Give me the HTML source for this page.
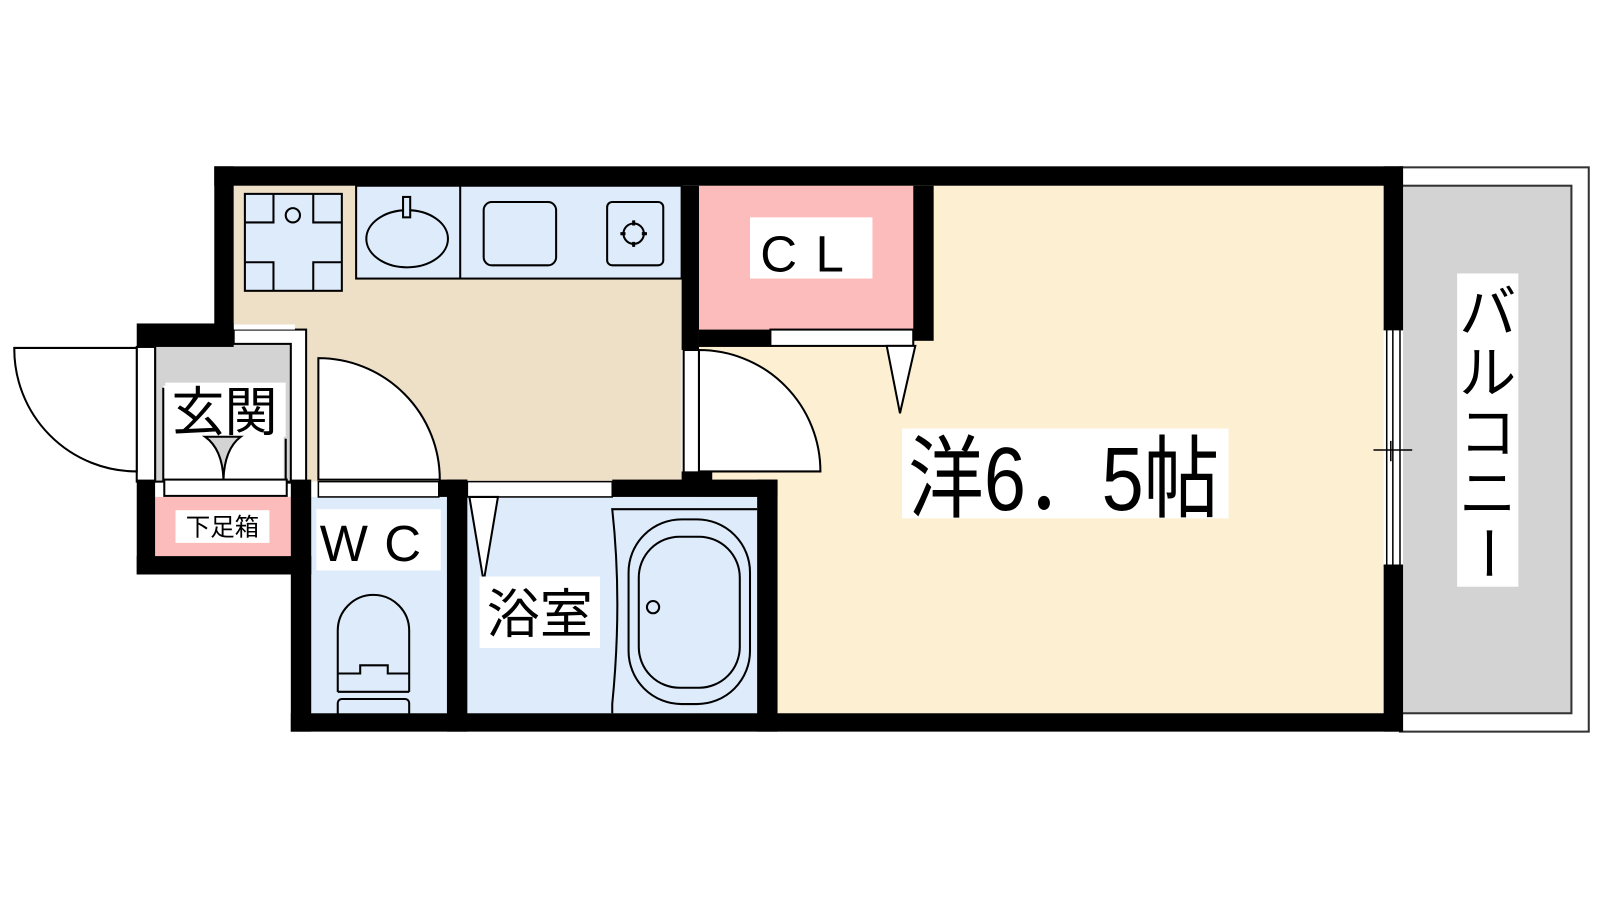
<!DOCTYPE html>
<html><head><meta charset="utf-8"><style>html,body{margin:0;padding:0;background:#fff}svg{display:block}text{font-family:"Liberation Sans","Noto Sans CJK JP",sans-serif}</style></head>
<body>
<svg width="1600" height="900" viewBox="0 0 1600 900" xmlns="http://www.w3.org/2000/svg">
<rect width="1600" height="900" fill="#fff"/>
<g transform="scale(1.0204)">
<!-- balcony -->
<rect x="1372" y="164" width="185" height="553" fill="#fff" stroke="#333" stroke-width="2"/>
<rect x="1372" y="182" width="168" height="517" fill="#d3d3d3" stroke="#333" stroke-width="2"/>
<rect x="1428" y="268" width="60" height="307" fill="#fff"/>
<g font-size="56" text-anchor="middle" fill="#000">
<text x="1458" y="326">バ</text><text x="1458" y="385">ル</text><text x="1458" y="444">コ</text><text x="1458" y="503">ニ</text><text x="1458" y="562" transform="rotate(90 1458 542)">ー</text>
</g>
<!-- main room -->
<rect x="685" y="182" width="673" height="517" fill="#fdf0d2"/>
<!-- kitchen -->
<rect x="229" y="182" width="439" height="290" fill="#eedfc7"/>
<rect x="229" y="323" width="71" height="150" fill="#fff" stroke="#000" stroke-width="2"/>
<rect x="229" y="318" width="60" height="5" fill="#fff"/>
<!-- washer -->
<rect x="240" y="190" width="95" height="95" fill="#ddebfa" stroke="#000" stroke-width="2"/>
<path d="M268 190V218H240M307 190V218H335M240 257H268V285M335 257H307V285" fill="none" stroke="#000" stroke-width="2"/>
<circle cx="287" cy="211" r="7" fill="none" stroke="#000" stroke-width="2"/>
<!-- counter -->
<rect x="349" y="182" width="319" height="91" fill="#ddebfa" stroke="#000" stroke-width="2"/>
<line x1="451" y1="182" x2="451" y2="273" stroke="#000" stroke-width="2"/>
<ellipse cx="399" cy="234" rx="40" ry="28" fill="none" stroke="#000" stroke-width="2"/>
<rect x="395" y="193" width="7" height="20" fill="#ddebfa" stroke="#000" stroke-width="2"/>
<rect x="474" y="198" width="71" height="62" rx="8" fill="none" stroke="#000" stroke-width="2"/>
<rect x="595" y="198" width="55" height="62" rx="5" fill="none" stroke="#000" stroke-width="2"/>
<circle cx="621" cy="229" r="10" fill="none" stroke="#000" stroke-width="2"/>
<path d="M621 216v5M621 237v5M608 229h5M629 229h5" stroke="#000" stroke-width="3"/>
<!-- kitchen door -->
<path d="M312 470V351A119 119 0 0 1 431 470Z" fill="#fff" stroke="#000" stroke-width="2"/>
<!-- CL -->
<rect x="685" y="182" width="210" height="141" fill="#fdbcbc"/>
<rect x="735" y="213" width="120" height="60" fill="#fff"/>
<text x="795" y="266" font-size="50" text-anchor="middle" letter-spacing="18">CL</text>
<rect x="755" y="323" width="140" height="16" fill="#fff" stroke="#000" stroke-width="2"/>
<path d="M869 339L897 339L882 405Z" fill="#fff" stroke="#000" stroke-width="2"/>
<!-- door from room -->
<rect x="670" y="343" width="15" height="120" fill="#fff" stroke="#000" stroke-width="2"/>
<path d="M685 462V343A119 119 0 0 1 804 462Z" fill="#fff" stroke="#000" stroke-width="2"/>
<!-- entrance -->
<rect x="152" y="337" width="133" height="135" fill="#d3d3d3" stroke="#000" stroke-width="2"/>
<rect x="160" y="378" width="118" height="94" fill="#fff"/>
<path d="M160 380V472M280 430V472" stroke="#000" stroke-width="2"/>
<rect x="162" y="375" width="118" height="53" fill="#fff"/>
<text x="220" y="422" font-size="52" text-anchor="middle">玄関</text>
<path d="M201 428Q218 440 219 470Q220 440 236 428Z" fill="#d3d3d3" stroke="#000" stroke-width="2"/>
<rect x="161" y="470" width="120" height="16" fill="#fff" stroke="#000" stroke-width="2"/>
<rect x="152" y="487" width="133" height="59" fill="#fdbcbc"/>
<rect x="172" y="500" width="92" height="32" fill="#fff"/>
<text x="218" y="525" font-size="24" text-anchor="middle">下足箱</text>
<rect x="134" y="340" width="18" height="132" fill="#fff" stroke="#000" stroke-width="2"/>
<path d="M14 341H134V462A120 120 0 0 1 14 341Z" fill="#fff" stroke="#000" stroke-width="2"/>
<!-- WC -->
<rect x="305" y="487" width="133" height="212" fill="#ddebfa"/>
<rect x="310" y="499" width="122" height="60" fill="#fff"/>
<text x="371" y="550" font-size="50" text-anchor="middle" letter-spacing="16">WC</text>
<path d="M331 678V618A35 35 0 0 1 401 618V678" fill="none" stroke="#000" stroke-width="2"/>
<path d="M331 660H353V652H380V660H401M331 678H401" fill="none" stroke="#000" stroke-width="2"/>
<rect x="331" y="685" width="70" height="20" rx="4" fill="none" stroke="#000" stroke-width="2"/>
<rect x="312" y="472" width="118" height="15" fill="#fff" stroke="#000" stroke-width="1.5"/>
<!-- bath -->
<rect x="458" y="487" width="284" height="212" fill="#ddebfa"/>
<rect x="458" y="472" width="142" height="15" fill="#fff" stroke="#000" stroke-width="1.5"/>
<path d="M460 487L488 487L474 570Z" fill="#fff" stroke="#000" stroke-width="2"/>
<rect x="470" y="565" width="118" height="70" fill="#fff"/>
<text x="529" y="620" font-size="52" text-anchor="middle">浴室</text>
<path d="M742 499H600Q610 590 600 690V699" fill="none" stroke="#000" stroke-width="2"/>
<rect x="616" y="509" width="119" height="181" rx="52" fill="none" stroke="#000" stroke-width="2"/>
<rect x="626" y="526" width="99" height="148" rx="40" fill="none" stroke="#000" stroke-width="2"/>
<circle cx="640" cy="595" r="6" fill="none" stroke="#000" stroke-width="2"/>
<!-- room label -->
<rect x="884" y="420" width="320" height="88" fill="#fff"/>
<text x="890" y="500" font-size="88" textLength="305" lengthAdjust="spacingAndGlyphs">洋6．5帖</text>
<!-- walls -->
<g fill="#000">
<rect x="210" y="163" width="1165" height="19"/>
<rect x="210" y="163" width="19" height="160"/>
<rect x="134" y="317" width="95" height="23"/>
<rect x="134" y="470" width="18" height="93"/>
<rect x="134" y="545" width="171" height="18"/>
<rect x="285" y="470" width="20" height="247"/>
<rect x="668" y="182" width="17" height="161"/>
<rect x="668" y="462" width="30" height="10"/>
<rect x="685" y="323" width="70" height="17"/>
<rect x="895" y="182" width="20" height="152"/>
<rect x="430" y="470" width="28" height="17"/>
<rect x="438" y="470" width="20" height="247"/>
<rect x="600" y="470" width="162" height="17"/>
<rect x="742" y="470" width="20" height="247"/>
<rect x="285" y="699" width="1090" height="18"/>
<rect x="1356" y="163" width="19" height="160"/>
<rect x="1356" y="554" width="19" height="163"/>
</g>
<!-- window -->
<rect x="1356" y="323" width="19" height="231" fill="#fff"/>
<path d="M1359 323V554M1365 323V554M1372 323V554M1356 323H1375M1356 554H1375M1346 441H1384M1363 432V452" stroke="#000" stroke-width="1.5"/>
</g>
</svg>
</body></html>
